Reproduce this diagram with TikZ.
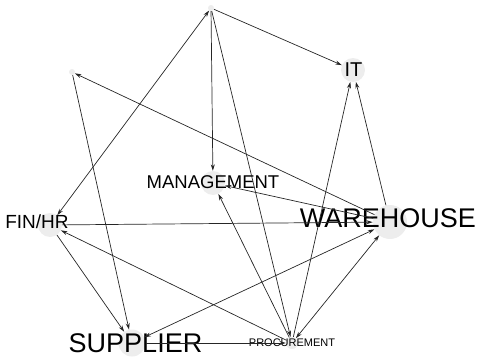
\documentclass[tikz,border=0pt]{standalone}
\usepackage{fontspec}
\setmainfont{Liberation Sans}
\usetikzlibrary{arrows.meta}

\tikzset{
  vertex/.style={circle, fill=black!7, draw=none, inner sep=0pt, minimum size=#1},
  tag/.style={anchor=base, inner sep=0pt, text=black},
  link/.style={draw=black!85, line width=0.7pt, -{Stealth[length=6.5pt,width=4pt]}},
  twoway/.style={draw=black!85, line width=0.7pt, {Stealth[length=6.5pt,width=4pt]}-{Stealth[length=6.5pt,width=4pt]}}
}

\begin{document}
\begin{tikzpicture}[x=1pt,y=1pt]
\useasboundingbox (0,0) rectangle (477,360);

% network vertices
\node[vertex=6pt]  (top)  at (211,352) {};
\node[vertex=6pt]  (left) at (72,288)  {};
\node[vertex=24pt] (it)   at (353,290) {};
\node[vertex=24pt] (mgmt) at (213,177) {};
\node[vertex=24pt] (fin)  at (50,135)  {};
\node[vertex=34pt] (ware) at (390,138) {};
\node[vertex=27pt] (sup)  at (132,17)  {};
\node[vertex=12pt] (proc) at (292,17)  {};

% vertex labels
\node[tag, font=\fontsize{20}{24}\selectfont]   (itlbl)   at (353.5,283.3) {IT};
\node[tag, font=\fontsize{18.5}{22}\selectfont] (mgmtlbl) at (213,171.9)   {MANAGEMENT};
\node[tag, font=\fontsize{19}{23}\selectfont]   (finlbl)  at (37,131.7)    {FIN/HR};
\node[tag, font=\fontsize{27}{32}\selectfont]   (warelbl) at (388,132.3)   {WAREHOUSE};
\node[tag, font=\fontsize{27}{32}\selectfont]   (suplbl)  at (135.5,7.3)   {SUPPLIER};
\node[tag, font=\fontsize{11}{13}\selectfont]   (proclbl) at (292,13.6)    {PROCUREMENT};

% directed links
\draw[link]   (top)  -- (it);
\draw[link]   (top)  -- (mgmt);
\draw[link]   (top)  -- (proc);
\draw[twoway] (top)  -- (fin);
\draw[link]   (left) -- (sup);
\draw[link]   (ware) -- (left);
\draw[link]   (fin)  -- (sup);
\draw[link]   (proc) -- (fin);
\draw[twoway] (ware) -- (sup);
\draw[link]   (sup)  -- (proc);
\draw[twoway] (proc) -- (ware);
\draw[link]   (proc) -- (it);
\draw[link]   (ware) -- (it);
\draw[link]   (ware) -- (mgmt);
\draw[link]   (proc) -- (mgmt);
\draw[link]   (fin)  -- (ware);
\end{tikzpicture}
\end{document}
